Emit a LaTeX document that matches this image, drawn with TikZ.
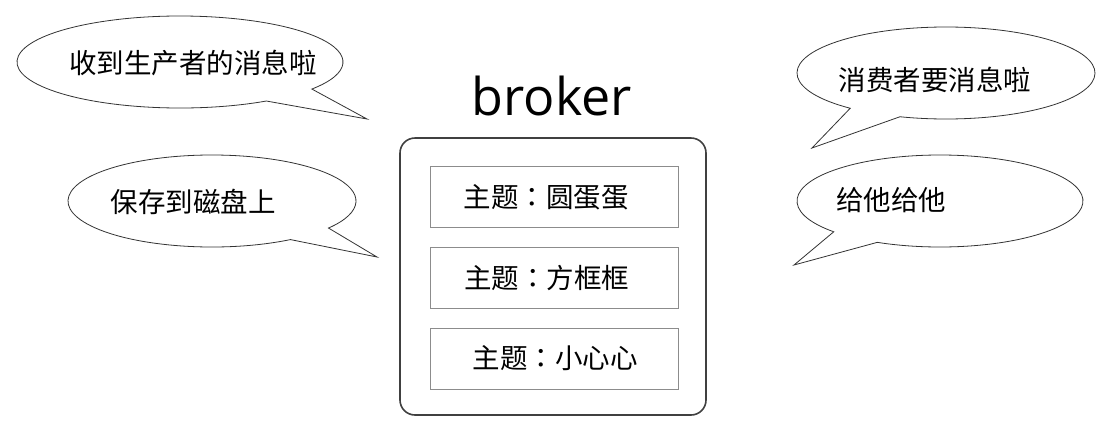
\documentclass[tikz,border=0pt]{standalone}
\usepackage{fontspec}
\setmainfont{Open Sans}
\newfontfamily\cjk{Noto Sans CJK SC}
\newfontfamily\cjktc{Noto Sans CJK TC}
\newcommand{\midcolon}{{\cjktc ：}}
\usetikzlibrary{positioning}

\tikzset{
  bubble/.style={draw=black!80, line width=0.8pt, fill=white, line join=miter},
  saying/.style={font=\cjk\fontsize{27.5}{33}\selectfont, inner sep=0pt},
  topic/.style={draw=black!45, line width=1pt, minimum width=248pt, minimum height=61pt, inner sep=0pt},
}

\begin{document}
\begin{tikzpicture}[x=1pt, y=-1pt]

\useasboundingbox (0,0) rectangle (1117,429);

% Producer side bubbles
\draw[bubble] (180,62) ++(58:163 and 46)
  arc[start angle=58, end angle=396, x radius=163, y radius=46] -- (367,119) -- cycle;
\node[saying] (recv) at (193,63) {收到生产者的消息啦};

\draw[bubble] (212,201) ++(57:144 and 46)
  arc[start angle=57, end angle=396, x radius=144, y radius=46] -- (377,257) -- cycle;
\node[saying] (save) at (193,202) {保存到磁盘上};

% Consumer side bubbles
\draw[bubble] (946,73) ++(130:149 and 46)
  arc[start angle=130, end angle=468, x radius=149, y radius=46] -- (812,148) -- cycle;
\node[saying] (want) at (935,80) {消费者要消息啦};

\draw[bubble] (940,201) ++(138:143 and 46)
  arc[start angle=138, end angle=476, x radius=143, y radius=46] -- (794,265) -- cycle;
\node[saying] (give) at (891,200) {给他给他};

% Broker
\node[font=\fontsize{52}{60}\selectfont, inner sep=0pt, anchor=base] (title) at (552,115) {broker};
\node[draw=black!75, line width=1.6pt, rounded corners=15pt,
  minimum width=306pt, minimum height=277pt] (broker) at (553,276.5) {};

% Topics
\node[topic] (t1) at (554,196.5) {};
\node[topic] (t2) at (554,277.5) {};
\node[topic] (t3) at (554,359) {};
\node[saying] (t1text) at (546,197) {主题\midcolon 圆蛋蛋};
\node[saying] (t2text) at (546.5,278) {主题\midcolon 方框框};
\node[saying] (t3text) at (555,358) {主题\midcolon 小心心};

\end{tikzpicture}
\end{document}
